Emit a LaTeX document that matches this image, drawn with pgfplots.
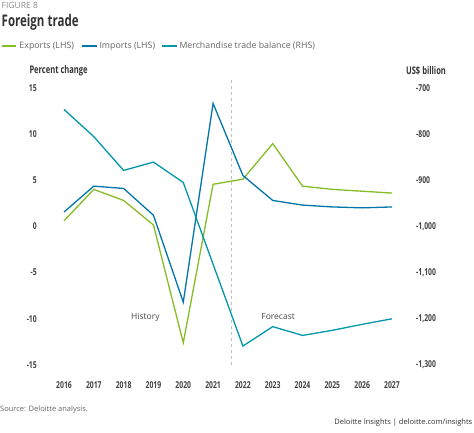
\documentclass[border=0pt]{standalone}
\usepackage{fontspec}
\setmainfont{Open Sans}
\newfontfamily\condb[FakeStretch=0.72]{Open Sans Bold}
\usepackage{pgfplots}
\pgfplotsset{compat=1.18}
\definecolor{cexp}{HTML}{86BC25}
\definecolor{cimp}{HTML}{0076A8}
\definecolor{cbal}{HTML}{0097A9}
\definecolor{ctxt}{HTML}{333333}
\definecolor{ctick}{HTML}{404040}
\definecolor{cgray}{HTML}{666666}
\definecolor{clight}{HTML}{8C8C8C}
\pgfplotstableread{
year exports imports balance
2016 0.6 1.55 -747
2017 4.0 4.35 -806
2018 2.8 4.1 -879
2019 0.15 1.2 -861
2020 -12.6 -8.2 -905
2021 4.55 13.3 -1082
2022 5.1 5.5 -1259
2023 8.95 2.8 -1217
2024 4.35 2.3 -1236
2025 4.0 2.1 -1225
2026 3.8 2.0 -1212
2027 3.6 2.1 -1200
}\datatable
\begin{document}
\begin{tikzpicture}
\useasboundingbox (0pt,0pt) rectangle (474pt,433pt);
\begin{scope}[x=1pt,y=1pt]
% header
\node[anchor=west, inner sep=0, font=\fontsize{8.5}{9}\selectfont, text=clight] at (1.5,428) {FIGURE 8};
\node[anchor=west, inner sep=0, font=\condb\fontsize{16}{18}\selectfont, text=ctxt] at (1.5,410.5) {Foreign trade};
% legend
\draw[cexp, line width=1.3pt] (2,387) -- (16,387);
\node[anchor=west, inner sep=0, font=\fontsize{8.8}{10}\selectfont, text=cgray] at (19.3,387) {Exports (LHS)};
\draw[cimp, line width=1.3pt] (81.7,387) -- (96.7,387);
\node[anchor=west, inner sep=0, font=\fontsize{8.8}{10}\selectfont, text=cgray] at (99.3,387) {Imports (LHS)};
\draw[cbal, line width=1.3pt] (162.3,387) -- (176.7,387);
\node[anchor=west, inner sep=0, font=\fontsize{8.8}{10}\selectfont, text=cgray] at (179.3,387) {Merchandise trade balance (RHS)};
% axis titles
\node[anchor=west, inner sep=0, font=\condb\fontsize{10.5}{12}\selectfont, text=ctxt] at (29.3,362) {Percent change};
\node[anchor=center, inner sep=0, font=\condb\fontsize{10.5}{12}\selectfont, text=ctxt] at (426,362) {US\$ billion};
% footer
\node[anchor=west, inner sep=0, font=\fontsize{7.5}{9}\selectfont, text=cgray] at (0,23) {Source: Deloitte analysis.};
\node[anchor=east, inner sep=0, font=\fontsize{7.5}{9}\selectfont, text=ctxt] at (472.5,10) {Deloitte Insights | deloitte.com/insights};
\end{scope}

\begin{axis}[
  at={(64pt,68pt)}, anchor=south west,
  scale only axis, width=328pt, height=277.3pt,
  xmin=2016, xmax=2027, ymin=-15, ymax=15,
  clip=false,
  axis line style={draw=none}, tick style={draw=none},
  major tick length=0pt,
  xtick={2016,...,2027},
  xticklabels={2016,2017,2018,2019,2020,2021,2022,2023,2024,2025,2026,2027},
  ytick={-15,-10,-5,0,5,10,15},
  yticklabels={-15,-10,-5,0,5,10,15},
  ytick pos=left, xtick pos=bottom,
  xticklabel style={anchor=center, inner sep=0pt, yshift=-20pt, font=\condb\fontsize{9.5}{10}\selectfont, text=ctick},
  yticklabel style={anchor=east, inner sep=0pt, xshift=-27pt, font=\condb\fontsize{9.5}{10}\selectfont, text=ctick},
]
\draw[gray!50, dashed, line width=0.8pt] (axis cs:2021.6,15.8) -- (axis cs:2021.6,-15.3);
\addplot[cexp, line width=1.3pt, no marks] table[x=year, y=exports] {\datatable};
\addplot[cimp, line width=1.3pt, no marks] table[x=year, y=imports] {\datatable};
\node[font=\fontsize{8.5}{10}\selectfont, text=ctxt!90] at (axis cs:2018.73,-9.8) {History};
\node[font=\fontsize{8.5}{10}\selectfont, text=ctxt!90] at (axis cs:2023.18,-9.8) {Forecast};
\end{axis}

\begin{axis}[
  at={(64pt,68pt)}, anchor=south west,
  scale only axis, width=328pt, height=277.3pt,
  xmin=2016, xmax=2027, ymin=-1300, ymax=-700,
  clip=false,
  axis line style={draw=none}, tick style={draw=none},
  major tick length=0pt,
  xtick=\empty,
  ytick={-1300,-1200,-1100,-1000,-900,-800,-700},
  yticklabels={{-1,300},{-1,200},{-1,100},{-1,000},-900,-800,-700},
  ytick pos=right,
  yticklabel style={anchor=west, inner sep=0pt, xshift=24pt, font=\condb\fontsize{9.5}{10}\selectfont, text=ctick},
]
\addplot[cbal, line width=1.3pt, no marks] table[x=year, y=balance] {\datatable};
\end{axis}
\end{tikzpicture}
\end{document}
